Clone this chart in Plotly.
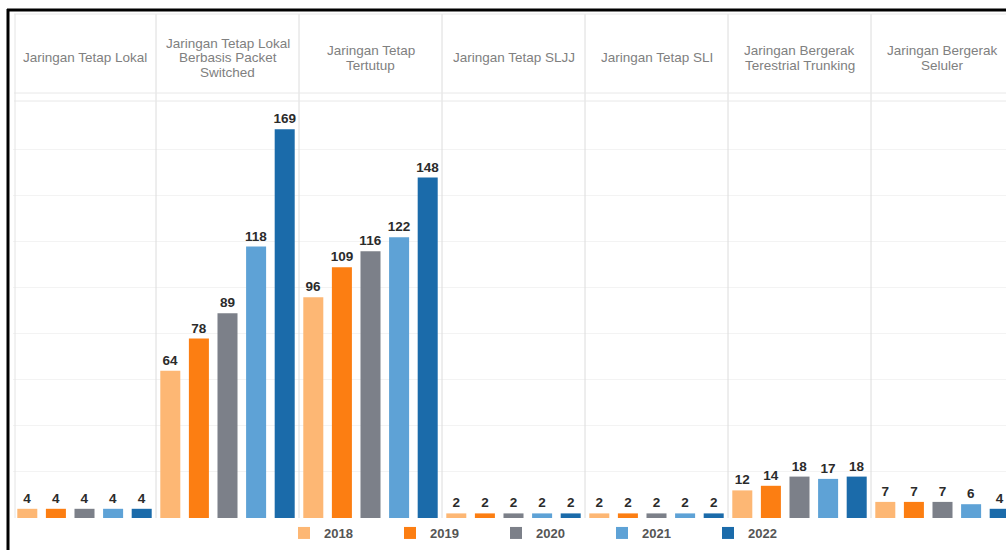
import plotly.graph_objects as go

# Categories (panes) and their header lines
categories = [
    "Jaringan Tetap Lokal",
    "Jaringan Tetap Lokal Berbasis Packet Switched",
    "Jaringan Tetap Tertutup",
    "Jaringan Tetap SLJJ",
    "Jaringan Tetap SLI",
    "Jaringan Bergerak Terestrial Trunking",
    "Jaringan Bergerak Seluler",
]
header_lines = [
    ["Jaringan Tetap Lokal"],
    ["Jaringan Tetap Lokal", "Berbasis Packet", "Switched"],
    ["Jaringan Tetap", "Tertutup"],
    ["Jaringan Tetap SLJJ"],
    ["Jaringan Tetap SLI"],
    ["Jaringan Bergerak", "Terestrial Trunking"],
    ["Jaringan Bergerak", "Seluler"],
]

years = ["2018", "2019", "2020", "2021", "2022"]

# Values per year, one entry per category
v2018 = [4, 64, 96, 2, 2, 12, 7]
v2019 = [4, 78, 109, 2, 2, 14, 7]
v2020 = [4, 89, 116, 2, 2, 18, 7]
v2021 = [4, 118, 122, 2, 2, 17, 6]
v2022 = [4, 169, 148, 2, 2, 18, 4]
series = [v2018, v2019, v2020, v2021, v2022]

colors = ["#FDB774", "#FC7E12", "#7C8089", "#5EA2D6", "#1B6BAA"]

W, H = 1006, 550
L, R, T, B = 13, 0, 103, 32
plot_w = W - L - R
plot_h = H - T - B
slot_px = 28.6
n_years = len(years)


def px_x(px):
    return (px - L) / plot_w


def px_y(py):
    return (H - B - py) / plot_h


fig = go.Figure()

for j, (yr, vals) in enumerate(zip(years, series)):
    xs = [p * n_years + j for p in range(len(categories))]
    fig.add_trace(go.Bar(
        x=xs,
        y=vals,
        name=yr,
        width=0.7,
        marker=dict(color=colors[j], line=dict(width=0)),
        text=[str(v) for v in vals],
        textposition="outside",
        constraintext="none",
        cliponaxis=False,
        textfont=dict(family="Liberation Sans", size=13.5, color="#2b2b2b", weight="bold"),
        hoverinfo="skip",
    ))

shapes = []
# Pane separators
for p in range(1, len(categories)):
    shapes.append(dict(type="line", xref="x", yref="paper",
                       x0=p * n_years - 0.5, x1=p * n_years - 0.5,
                       y0=0, y1=px_y(14),
                       line=dict(color="#dcdcdc", width=1)))
# Header frame lines
for py in (14, 93, 101):
    shapes.append(dict(type="line", xref="paper", yref="paper",
                       x0=px_x(14), x1=1, y0=px_y(py), y1=px_y(py),
                       line=dict(color="#e8e8e8", width=1)))
shapes.append(dict(type="line", xref="paper", yref="paper",
                   x0=px_x(15), x1=px_x(15), y0=0, y1=px_y(14),
                   line=dict(color="#e4e4e4", width=1)))
# Outer black border (top and left)
shapes.append(dict(type="line", xref="paper", yref="paper",
                   x0=px_x(7), x1=1, y0=px_y(10), y1=px_y(10),
                   line=dict(color="#000000", width=3)))
shapes.append(dict(type="line", xref="paper", yref="paper",
                   x0=px_x(8), x1=px_x(8), y0=px_y(9), y1=px_y(H),
                   line=dict(color="#000000", width=3)))

annotations = []
line_gap = 14.5
for p, lines in enumerate(header_lines):
    n = len(lines)
    center = 58
    for k, txt in enumerate(lines):
        py = center + (k - (n - 1) / 2) * line_gap
        annotations.append(dict(
            x=p * n_years + 2, y=px_y(py), xref="x", yref="paper",
            text=txt, showarrow=False, xanchor="center", yanchor="middle",
            font=dict(family="Liberation Sans", size=13.5, color="#808080"),
        ))

fig.update_layout(
    width=W, height=H,
    margin=dict(l=L, r=R, t=T, b=B),
    paper_bgcolor="white",
    plot_bgcolor="white",
    barmode="overlay",
    xaxis=dict(range=[-0.5, -0.5 + plot_w / slot_px], showgrid=False,
               showticklabels=False, zeroline=False, ticks=""),
    yaxis=dict(range=[0, 180.4], dtick=20, showgrid=True, gridcolor="#f3f3f3",
               gridwidth=1, showticklabels=False, zeroline=False, ticks=""),
    shapes=shapes,
    annotations=annotations,
    showlegend=True,
    legend=dict(orientation="h", x=px_x(284), xanchor="left",
                y=px_y(533), yanchor="middle",
                entrywidth=61, entrywidthmode="pixels",
                font=dict(family="Liberation Sans", size=13, color="#555555", weight="bold"),
                bgcolor="rgba(0,0,0,0)", itemclick=False),
)

fig.write_html("out.html")
